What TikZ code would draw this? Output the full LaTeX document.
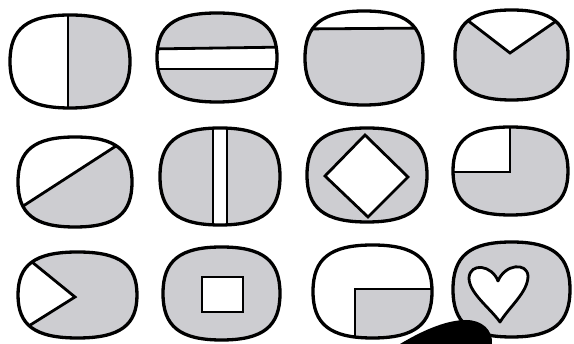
\documentclass[tikz,border=0pt]{standalone}
\definecolor{tvgray}{RGB}{205,205,209}
\def\tvoutline{(1,0) .. controls (1,0.7) and (0.72,1) .. (0,1) .. controls (-0.72,1) and (-1,0.7) .. (-1,0) .. controls (-1,-0.7) and (-0.72,-1) .. (0,-1) .. controls (0.72,-1) and (1,-0.7) .. (1,0) -- cycle}
\newcommand\tvbox[5]{%
  \begin{scope}
    \fill[tvgray,shift={(#1,#2)},xscale=#3,yscale=#4] \tvoutline;
    \begin{scope}
      \clip[shift={(#1,#2)},xscale=#3,yscale=#4] \tvoutline;
      #5
    \end{scope}
    \draw[tvline,shift={(#1,#2)},xscale=#3,yscale=#4] \tvoutline;
  \end{scope}}
\tikzset{
  tvline/.style={line width=3.3pt,line join=round},
  inner/.style={line width=2.8pt,line join=miter}
}
\begin{document}
\begin{tikzpicture}[x=1pt,y=-1pt]
\useasboundingbox[fill=white] (0,0) rectangle (574,344);
% row 1
\tvbox{70}{61.5}{60}{46.5}{%
  \fill[white] (0,0) rectangle (68,130);
  \draw[inner] (68,0) -- (68,130);}
\tvbox{217}{57.5}{60}{44.5}{%
  \fill[white] (150,49) -- (290,47) -- (290,69) -- (150,69) -- cycle;
  \draw[inner] (150,49) -- (290,47);
  \draw[inner] (150,69) -- (290,69);}
\tvbox{364}{58}{59}{47}{%
  \fill[white] (300,0) rectangle (430,29);
  \draw[inner] (300,29) -- (430,28);}
\tvbox{511.5}{55}{56.5}{45}{%
  \fill[white] (445,3) -- (510,53) -- (575,8) -- (575,0) -- (445,0) -- cycle;
  \draw[inner] (445,3) -- (510,53) -- (575,8);}
% row 2
\tvbox{75}{182}{57}{45}{%
  \fill[white] (0,221) -- (150,124) -- (150,110) -- (0,110) -- cycle;
  \draw[inner] (0,221) -- (150,124);}
\tvbox{220}{176.5}{60}{48.5}{%
  \fill[white] (213,120) rectangle (227,235);
  \draw[inner] (213,120) -- (213,235);
  \draw[inner] (227,120) -- (227,235);}
\tvbox{367}{175}{60}{47}{%
  \fill[white] (365,135) -- (408,177) -- (368,217) -- (325,176) -- cycle;
  \draw[inner] (365,135) -- (408,177) -- (368,217) -- (325,176) -- cycle;}
\tvbox{510.5}{171}{57.5}{44}{%
  \fill[white] (440,100) rectangle (510,172);
  \draw[inner] (510,100) -- (510,172) -- (440,172);}
% row 3
\tvbox{77.5}{295}{59.5}{43}{%
  \fill[white] (0,236) -- (75,297) -- (0,344) -- cycle;
  \draw[inner] (0,236) -- (75,297) -- (0,344);}
\tvbox{221.5}{293.5}{58.5}{46.5}{%
  \fill[white] (202,277) rectangle (243,312);
  \draw[inner] (202,277) rectangle (243,312);}
\tvbox{372.5}{291.5}{59.5}{46.5}{%
  \fill[white] (300,230) rectangle (440,344);
  \fill[tvgray] (355,289) rectangle (440,344);
  \draw[inner] (355,344) -- (355,289) -- (440,289);}
\tvbox{511.5}{289.5}{58.5}{47.5}{%
  \fill[white] (498,281) .. controls (492,265) and (470,262) .. (469,278) .. controls (469,293) and (490,308) .. (500,322) .. controls (510,306) and (528,292) .. (528,276) .. controls (527,262) and (505,264) .. (498,281) -- cycle;
  \draw[inner,line join=round] (498,281) .. controls (492,265) and (470,262) .. (469,278) .. controls (469,293) and (490,308) .. (500,322) .. controls (510,306) and (528,292) .. (528,276) .. controls (527,262) and (505,264) .. (498,281) -- cycle;}
% dark blob at the bottom
\fill[black] (400,344) .. controls (420,332) and (445,320) .. (466,320) .. controls (482,320) and (493,330) .. (492,344) -- cycle;
\end{tikzpicture}
\end{document}
